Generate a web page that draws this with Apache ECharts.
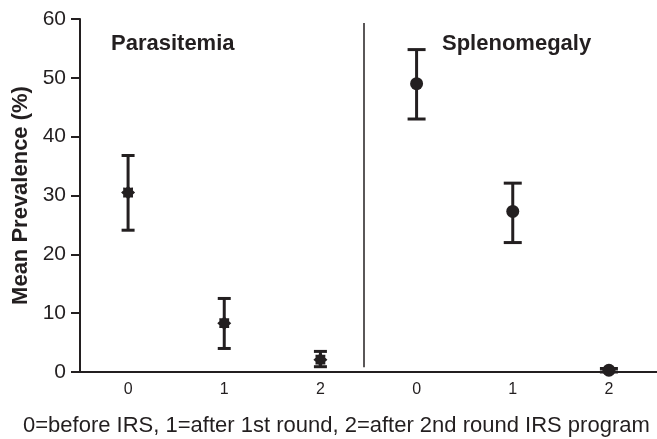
<!DOCTYPE html>
<html>
<head>
<meta charset="utf-8">
<script src="https://cdn.jsdelivr.net/npm/echarts@6/dist/echarts.min.js"></script>
<style>html,body{margin:0;padding:0;background:#fff;}#c{width:657px;height:439px;}</style>
</head>
<body>
<div id="c"></div>
<script>
// ---- data ----
var tickLabels = ['0', '1', '2', '0', '1', '2'];
var paraIdx = [0, 1, 2];
var paraMean = [30.5, 8.3, 2.1];
var paraLow = [24.1, 4.0, 0.9];
var paraHigh = [36.8, 12.5, 3.5];
var splenIdx = [3, 4, 5];
var splenMean = [49.0, 27.3, 0.3];
var splenLow = [43.0, 22.0, 0.0];
var splenHigh = [54.8, 32.1, 0.6];
var yTicks = [0, 10, 20, 30, 40, 50, 60];
var dividerAt = 2.45;
var dividerSpan = [0.8, 59.3];
var groupTitles = ['Parasitemia', 'Splenomegaly'];
var yName = 'Mean Prevalence (%)';
var xName = '0=before IRS, 1=after 1st round, 2=after 2nd round IRS program';

var INK = '#231f20';
var FONT = '"Liberation Sans", Arial, sans-serif';
var starPath = 'path://M20 10 L16.93 12.87 L17.07 17.07 L12.87 16.93 L10 20 L7.13 16.93 L2.93 17.07 L3.07 12.87 L0 10 L3.07 7.13 L2.93 2.93 L7.13 3.07 L10 0 L12.87 3.07 L17.07 2.93 L16.93 7.13 Z';

function pts(idx, vals) { return idx.map(function (x, i) { return [x, vals[i]]; }); }
function errs(idx, lo, hi) { return idx.map(function (x, i) { return [x, lo[i], hi[i]]; }); }

function errorBar(capHalf) {
  return function (params, api) {
    var x = api.value(0);
    var lo = api.coord([x, api.value(1)]);
    var hi = api.coord([x, api.value(2)]);
    var st = { stroke: INK, lineWidth: 3 };
    return {
      type: 'group',
      children: [
        { type: 'line', shape: { x1: lo[0], y1: lo[1], x2: hi[0], y2: hi[1] }, style: st },
        { type: 'line', shape: { x1: hi[0] - capHalf, y1: hi[1], x2: hi[0] + capHalf, y2: hi[1] }, style: st },
        { type: 'line', shape: { x1: lo[0] - capHalf, y1: lo[1], x2: lo[0] + capHalf, y2: lo[1] }, style: st }
      ]
    };
  };
}

var chart = echarts.init(document.getElementById('c'), null, { renderer: 'canvas' });
chart.setOption({
  backgroundColor: '#fff',
  animation: false,
  textStyle: { fontFamily: FONT },
  title: [
    { text: groupTitles[0], left: 106, top: 28, textStyle: { fontFamily: FONT, fontSize: 22, fontWeight: 'bold', color: INK } },
    { text: groupTitles[1], left: 437, top: 28, textStyle: { fontFamily: FONT, fontSize: 22, fontWeight: 'bold', color: INK } },
    { text: xName, left: 18, top: 410, textStyle: { fontFamily: FONT, fontSize: 22, fontWeight: 'normal', color: INK } }
  ],
  grid: { left: 80, right: -5, top: 19, bottom: 67, containLabel: false },
  xAxis: [
    {
      type: 'category',
      data: tickLabels,
      boundaryGap: true,
      axisLine: { lineStyle: { color: INK, width: 2 } },
      axisTick: { alignWithLabel: true, length: 10, lineStyle: { color: INK, width: 2 } },
      axisLabel: { fontSize: 16, color: INK, margin: 10, fontFamily: FONT },
      splitLine: { show: false }
    },
    { type: 'value', min: -0.5, max: 5.5, show: false }
  ],
  yAxis: {
    type: 'value',
    min: yTicks[0],
    max: yTicks[yTicks.length - 1],
    interval: 10,
    name: yName,
    nameLocation: 'middle',
    nameRotate: 90,
    nameGap: 47,
    nameTextStyle: { fontSize: 22, fontWeight: 'bold', color: INK, fontFamily: FONT },
    axisLine: { show: true, onZero: false, lineStyle: { color: INK, width: 2 } },
    axisTick: { show: true, length: 9, lineStyle: { color: INK, width: 2 } },
    axisLabel: { fontSize: 21, color: INK, margin: 14, fontFamily: FONT },
    splitLine: { show: false }
  },
  series: [
    {
      type: 'line', xAxisIndex: 1, data: [], silent: true,
      markLine: {
        silent: true, symbol: 'none', label: { show: false },
        lineStyle: { color: INK, width: 1.5, type: 'solid' },
        data: [[{ coord: [dividerAt, dividerSpan[1]] }, { coord: [dividerAt, dividerSpan[0]] }]]
      }
    },
    { type: 'custom', renderItem: errorBar(6.5), data: errs(paraIdx, paraLow, paraHigh), z: 3 },
    { type: 'custom', renderItem: errorBar(9), data: errs(splenIdx, splenLow, splenHigh), z: 3 },
    { type: 'scatter', data: pts(paraIdx, paraMean), symbol: starPath, symbolSize: 14, itemStyle: { color: INK, opacity: 1 }, z: 4 },
    { type: 'scatter', data: pts(splenIdx, splenMean), symbol: 'circle', symbolSize: 13, itemStyle: { color: INK, opacity: 1 }, z: 4 }
  ]
});
</script>
</body>
</html>
